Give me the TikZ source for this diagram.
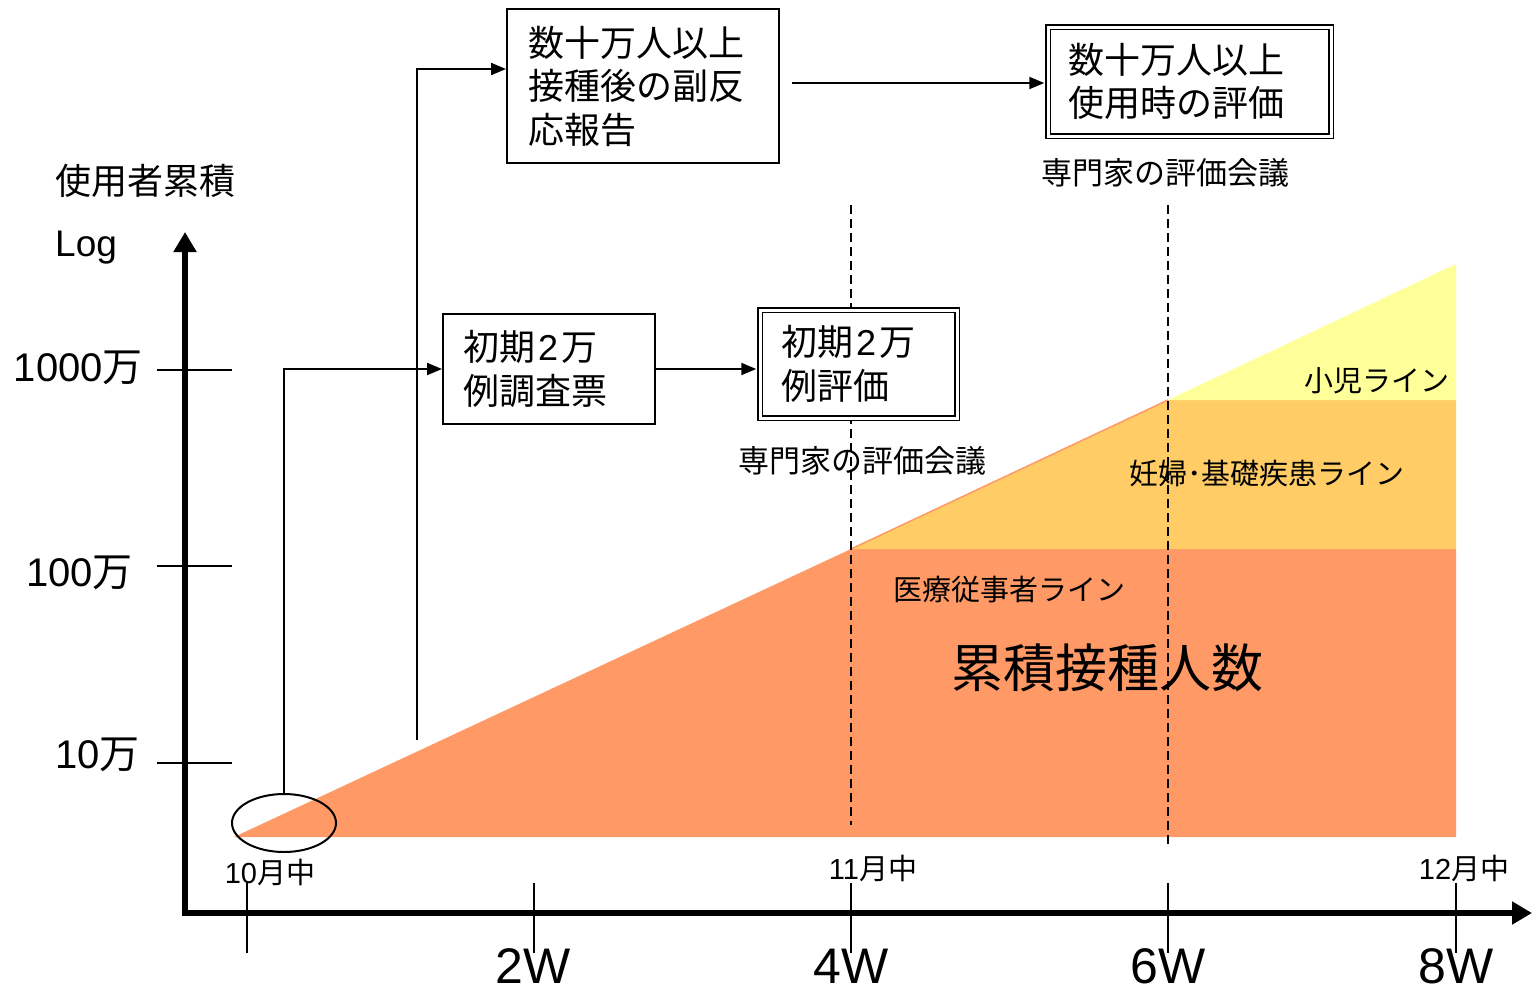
\documentclass[tikz,border=0pt]{standalone}
\usepackage{fontspec}
\setmainfont{Liberation Sans}
\newfontfamily\jpfont{Noto Sans CJK JP}
\usetikzlibrary{arrows.meta,shapes.geometric}
\definecolor{salmonfill}{HTML}{FF9966}
\definecolor{amberfill}{HTML}{FFCC66}
\definecolor{paleyellow}{HTML}{FFFF99}
\newcommand\twodigit{\kern3pt{\rmfamily 2}\kern3pt}
\begin{document}
\begin{tikzpicture}[x=1pt,y=-1pt,
  box/.style={draw, line width=2pt, fill=white, inner sep=0pt, align=left,
    font=\jpfont\fontsize{36}{43.5}\selectfont},
  dbox/.style={box, double, double distance=3pt, line width=1.5pt},
  arr/.style={line width=2pt, -{Triangle[length=15pt,width=12pt]}},
  axis/.style={line width=6pt, -{Triangle[length=20pt,width=22pt]}},
  tick/.style={line width=2pt},
  dline/.style={line width=2pt, dash pattern=on 9pt off 5pt},
  lbl/.style={inner sep=0pt, font=\jpfont\fontsize{31}{36}\selectfont},
  linelbl/.style={inner sep=0pt, font=\jpfont\fontsize{29}{34}\selectfont},
  ylbl/.style={inner sep=0pt, anchor=east, font=\fontsize{40}{46}\selectfont},
  mlbl/.style={inner sep=0pt, font=\fontsize{29}{34}\selectfont},
  wlbl/.style={inner sep=0pt, anchor=base, font=\fontsize{50}{56}\selectfont}]
\useasboundingbox (0,0) rectangle (1532,991);

% filled regions
\fill[salmonfill] (234,837) -- (851,549) -- (1456,549) -- (1456,837) -- cycle;
\fill[amberfill] (851,549) -- (1168,400) -- (1456,400) -- (1456,549) -- cycle;
\fill[paleyellow] (1168,400) -- (1456,264) -- (1456,400) -- cycle;
\draw[salmonfill, line width=1.5pt] (851,549) -- (1168,400);

% dashed lines
\draw[dline] (851,205) -- (851,825);
\draw[dline] (1168,205) -- (1168,848);

% y ticks
\draw[tick] (157,370) -- (232,370);
\draw[tick] (157,566) -- (232,566);
\draw[tick] (157,763) -- (232,763);
% x ticks
\foreach \xx in {247,534,851,1168,1456} \draw[tick] (\xx,883) -- (\xx,953);

% axes
\draw[axis] (185,916) -- (185,232);
\draw[axis] (182,913) -- (1532,913);

% ellipse
\node[ellipse, draw, line width=2pt, minimum width=104pt, minimum height=58pt, inner sep=0pt] (ell) at (284,823) {};

% boxes
\node[box, minimum width=212pt, minimum height=110pt, text width=172pt] (b1) at (549,369) {初期\twodigit 万\\例調査票};
\node[dbox, minimum width=197pt, minimum height=108pt, text width=155pt] (b2) at (858.5,364) {初期\twodigit 万\\例評価};
\node[box, minimum width=272pt, minimum height=154pt, text width=230pt] (b3) at (643,86) {数十万人以上\\接種後の副反\\応報告};
\node[dbox, minimum width=283pt, minimum height=109pt, text width=243pt] (b4) at (1189.5,81.5) {数十万人以上\\使用時の評価};

% connectors
\draw[arr] (ell.north) |- (b1.west);
\draw[arr, shorten >=3pt] (b1.east) -- (b1.east -| b2.west);
\coordinate (s1) at (417,740);
\draw[arr] (s1) |- ([yshift=17pt]b3.west);
\coordinate (s2) at (792,83);
\draw[arr, shorten >=3pt] (s2) -- (s2 -| b4.west);

% texts
\node[inner sep=0pt, anchor=west, font=\jpfont\fontsize{36}{40}\selectfont] (ttl) at (55,181) {使用者累積};
\node[inner sep=0pt, anchor=west, font=\fontsize{37}{40}\selectfont] (logl) at (55,248) {Log};
\node[ylbl] (y1) at (143,368) {1000{\jpfont 万}};
\node[ylbl] (y2) at (133,573) {100{\jpfont 万}};
\node[ylbl] (y3) at (140,755) {10{\jpfont 万}};

\node[mlbl] (m1) at (270,872) {10{\jpfont 月中}};
\node[mlbl] (m2) at (873,868) {11{\jpfont 月中}};
\node[mlbl] (m3) at (1464,868) {12{\jpfont 月中}};

\node[wlbl] (w2) at (533,983) {2W};
\node[wlbl] (w4) at (851,983) {4W};
\node[wlbl] (w6) at (1168,983) {6W};
\node[wlbl] (w8) at (1456,983) {8W};

\node[lbl] (e1) at (862,461) {専門家の評価会議};
\node[lbl] (e2) at (1165,173) {専門家の評価会議};

\node[linelbl, anchor=east] (l1) at (1450,381) {小児ライン};
\node[linelbl] (l2) at (1267,474) {妊婦･基礎疾患ライン};
\node[linelbl] (l3) at (1009,590) {医療従事者ライン};
\node[inner sep=0pt, font=\jpfont\fontsize{52}{58}\selectfont] (big) at (1107,668) {累積接種人数};
\end{tikzpicture}
\end{document}
